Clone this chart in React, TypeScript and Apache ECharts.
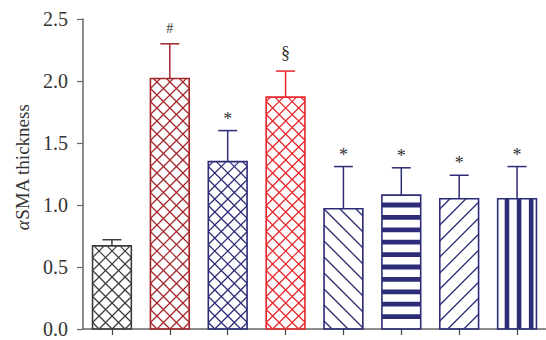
import React, { useEffect, useRef } from "react";
import * as echarts from "echarts";

const categories = ["G1", "G2", "G3", "G4", "G5", "G6", "G7", "G8"];
const means = [0.67, 2.02, 1.35, 1.87, 0.97, 1.08, 1.05, 1.05];
const upper = [0.72, 2.3, 1.6, 2.08, 1.31, 1.3, 1.24, 1.31];
const marks = ["", "#", "*", "§", "*", "*", "*", "*"];
const yTicks = [0, 0.5, 1.0, 1.5, 2.0, 2.5];

const colors = ["#3c3c3c", "#a4262c", "#2d2c78", "#e8262b", "#2d2c78", "#2d2c78", "#2d2c78", "#2d2c78"];
const patterns = ["cross", "cross", "cross", "cross", "back", "hstripe", "fwd", "vstripe"];
const markOffset: Record<string, number> = { "#": 15, "*": 12, "§": 18 };

const SERIF = "'Liberation Serif', 'DejaVu Serif', serif";

function backLines(x0: number, x1: number, yT: number, yB: number, p: number, color: string, lw: number) {
  const out: any[] = [];
  const cMin = yT - x1;
  for (let c = yB - x0 - p / 2; c > cMin; c -= p) {
    const xs = Math.max(x0, yT - c);
    const xe = Math.min(x1, yB - c);
    if (xe - xs > 0.5) out.push({ type: "line", shape: { x1: xs, y1: xs + c, x2: xe, y2: xe + c }, style: { stroke: color, lineWidth: lw }, silent: true });
  }
  return out;
}
function backLinesFull(x0: number, x1: number, yT: number, yB: number, p: number, color: string, lw: number) {
  const out: any[] = backLines(x0, x1, yT, yB, p, color, lw);
  const cMax = yB - x0;
  for (let c = yB - x0 + p / 2; c < cMax; c += p) {
    const xs = Math.max(x0, yT - c);
    const xe = Math.min(x1, yB - c);
    if (xe - xs > 0.5) out.push({ type: "line", shape: { x1: xs, y1: xs + c, x2: xe, y2: xe + c }, style: { stroke: color, lineWidth: lw }, silent: true });
  }
  return out;
}
function fwdLines(x0: number, x1: number, yT: number, yB: number, p: number, color: string, lw: number) {
  const out: any[] = [];
  const cMin = x0 + yT;
  const cMax = x1 + yB;
  const pushFwd = (c: number) => {
    const xs = Math.max(x0, c - yB);
    const xe = Math.min(x1, c - yT);
    if (xe - xs > 0.5) out.push({ type: "line", shape: { x1: xs, y1: c - xs, x2: xe, y2: c - xe }, style: { stroke: color, lineWidth: lw }, silent: true });
  };
  for (let c = x0 + yB - p / 2; c > cMin; c -= p) pushFwd(c);
  for (let c = x0 + yB + p / 2; c < cMax; c += p) pushFwd(c);
  return out;
}

export default function App() {
  const ref = useRef<HTMLDivElement>(null);
  useEffect(() => {
    document.body.style.margin = "0";
    if (!ref.current) return;
    const chart = echarts.init(ref.current, null, { renderer: "svg" });
    const data = means.map((v, i) => [i, v, upper[i]]);
    chart.setOption({
      animation: false,
      backgroundColor: "#ffffff",
      grid: { left: 83, right: -4, top: 19, bottom: 11, containLabel: false },
      xAxis: {
        type: "category",
        data: categories,
        axisLine: { show: true, lineStyle: { color: "#666", width: 1.5 } },
        axisTick: { show: true, alignWithLabel: true, length: 6, lineStyle: { color: "#444", width: 1.2 } },
        axisLabel: { show: false },
        splitLine: { show: false },
      },
      yAxis: {
        type: "value",
        min: 0,
        max: 2.5,
        interval: 0.5,
        axisLine: { show: true, lineStyle: { color: "#666", width: 1.5 } },
        axisTick: { show: true, length: 6, lineStyle: { color: "#666", width: 1.2 } },
        axisLabel: {
          margin: 15,
          fontFamily: SERIF,
          fontSize: 20,
          color: "#333",
          formatter: (v: number) => (yTicks.includes(v) ? v.toFixed(1) : ""),
        },
        splitLine: { show: false },
      },
      graphic: [
        {
          type: "text",
          x: 22,
          y: 167,
          rotation: Math.PI / 2,
          style: {
            text: "{a|α}SMA thickness",
            fontFamily: SERIF,
            fontSize: 19,
            fill: "#333",
            align: "center",
            verticalAlign: "middle",
            rich: { a: { fontStyle: "italic", fontFamily: SERIF, fontSize: 19, fill: "#333" } },
          },
        },
      ],
      series: [
        {
          type: "custom",
          data,
          clip: false,
          renderItem: (params: any, api: any) => {
            const i = api.value(0);
            const v = api.value(1);
            const up = api.value(2);
            const [cx, yT] = api.coord([i, v]);
            const [, yB] = api.coord([i, 0]);
            const [, yC] = api.coord([i, up]);
            const bw = api.size([1, 0])[0] * 0.67;
            const x0 = cx - bw / 2;
            const x1 = cx + bw / 2;
            const color = colors[i];
            const pat = patterns[i];
            let children: any[] = [];
            if (pat === "cross") {
              children = children.concat(backLinesFull(x0, x1, yT, yB, 13, color, 1.2));
              children = children.concat(fwdLines(x0, x1, yT, yB, 13, color, 1.2));
            } else if (pat === "back") {
              children = children.concat(backLines(x0, x1, yT, yB, 16, color, 1.3));
            } else if (pat === "fwd") {
              children = children.concat(fwdLines(x0, x1, yT, yB, 16, color, 1.3));
            } else if (pat === "hstripe") {
              for (let k = 1; ; k++) {
                const c = yB - k * 12.4;
                if (c < yT + 3) break;
                children.push({ type: "rect", shape: { x: x0, y: c - 2.4, width: bw, height: 4.8 }, style: { fill: color }, silent: true });
              }
            } else if (pat === "vstripe") {
              for (let k = 0; k < 3; k++) {
                const sx = x0 + 7 + k * 12.1;
                if (sx + 4.6 > x1) break;
                children.push({ type: "rect", shape: { x: sx, y: yT, width: 4.6, height: yB - yT }, style: { fill: color }, silent: true });
              }
            }
            children.push({ type: "rect", shape: { x: x0, y: yT, width: bw, height: yB - yT }, style: { fill: "none", stroke: color, lineWidth: 1.6 }, silent: true });
            children.push({ type: "line", shape: { x1: cx, y1: yT, x2: cx, y2: yC }, style: { stroke: color, lineWidth: 1.5 }, silent: true });
            children.push({ type: "line", shape: { x1: cx - 9.5, y1: yC, x2: cx + 9.5, y2: yC }, style: { stroke: color, lineWidth: 1.5 }, silent: true });
            const m = marks[i];
            if (m) {
              children.push({
                type: "text",
                style: {
                  text: m,
                  x: cx,
                  y: yC - (markOffset[m] || 12),
                  align: "center",
                  verticalAlign: "middle",
                  fontFamily: SERIF,
                  fontSize: m === "#" ? 14 : 18,
                  fill: "#333",
                },
                silent: true,
              });
            }
            return { type: "group", children };
          },
        },
      ],
    });
    return () => chart.dispose();
  }, []);
  return <div ref={ref} style={{ width: 546, height: 340 }} />;
}
